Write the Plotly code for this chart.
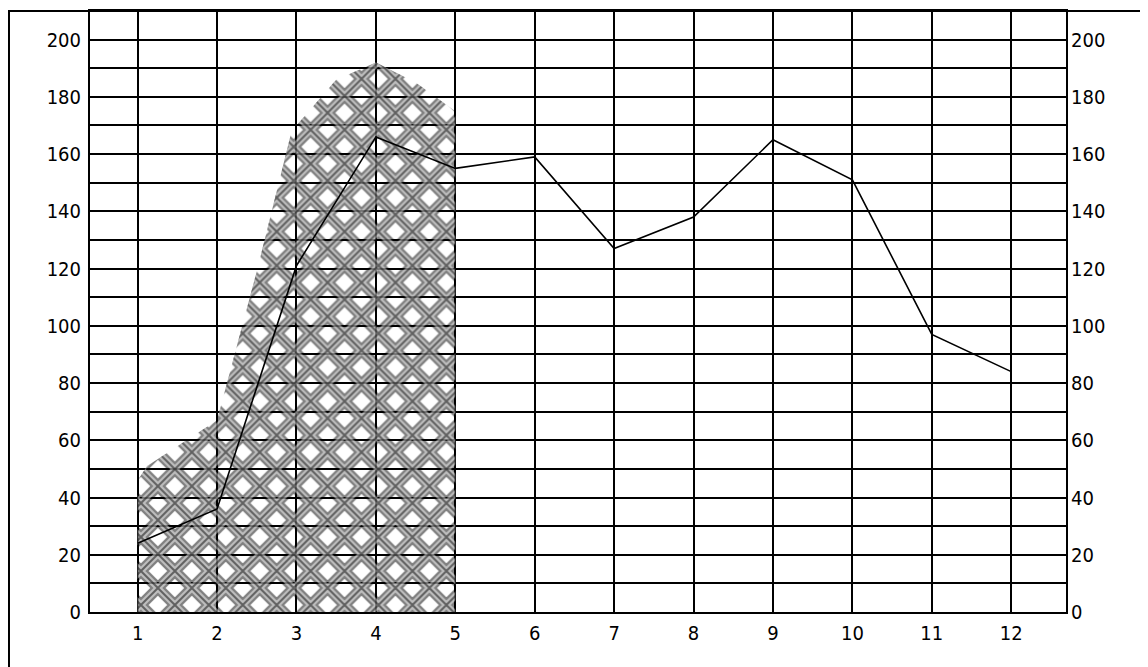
import plotly.graph_objects as go

# Data
months = [1, 2, 3, 4, 5, 6, 7, 8, 9, 10, 11, 12]
month_labels = ["1", "2", "3", "4", "5", "6", "7", "8", "9", "10", "11", "12"]
line_values = [24, 36, 121, 166, 155, 159, 127, 138, 165, 151, 97, 84]

# outline of the hatched area (x, y)
hatch_x = [1, 1, 1.12, 2, 2.5, 2.93, 3, 3.5, 4, 4.5, 5, 5]
hatch_y = [0, 46, 51, 67, 119, 167, 170, 186, 192, 185, 175, 0]

y_labels = [0, 20, 40, 60, 80, 100, 120, 140, 160, 180, 200]

fig = go.Figure()

# layered diagonal lattices give the triple-line diamond hatch
for col, sol in [("black", 0.7), ("white", 0.45), ("black", 0.16)]:
    fig.add_trace(go.Scatter(
        x=hatch_x, y=hatch_y, mode="lines", fill="toself",
        line=dict(width=0, color="black"),
        fillcolor="rgba(0,0,0,0)",
        fillpattern=dict(shape="x", fgcolor=col, size=24, solidity=sol),
        hoverinfo="skip", showlegend=False,
    ))

fig.add_trace(go.Scatter(
    x=months, y=line_values, mode="lines",
    line=dict(color="black", width=1.6),
    showlegend=False,
))
# carrier for right-hand axis labels
fig.add_trace(go.Scatter(
    x=months, y=line_values, mode="lines", line=dict(width=0),
    opacity=0, hoverinfo="skip", showlegend=False, yaxis="y2",
))

font = dict(family="Liberation Sans Narrow, Arial Narrow, DejaVu Sans Condensed, sans-serif",
            size=20, color="black")

fig.update_layout(
    width=1140, height=659,
    margin=dict(l=82, r=82, t=1, b=55),
    paper_bgcolor="white", plot_bgcolor="white",
    showlegend=False,
    font=font,
    xaxis=dict(
        range=[0.4, 12.69], tickmode="array", tickvals=months, ticktext=month_labels,
        showgrid=True, gridcolor="black", gridwidth=1.5,
        showline=True, linecolor="black", linewidth=2, mirror=True,
        ticks="", zeroline=False, tickfont=font, ticklabelstandoff=2,
    ),
    yaxis=dict(
        range=[0, 210], tickmode="array", tickvals=y_labels,
        showgrid=True, gridcolor="black", gridwidth=1.5,
        minor=dict(dtick=10, showgrid=True, gridcolor="black", gridwidth=1.5),
        showline=True, linecolor="black", linewidth=2, mirror=True,
        ticks="", zeroline=False, tickfont=font, ticklabelstandoff=3,
    ),
    yaxis2=dict(
        range=[0, 210], overlaying="y", side="right", tickmode="array",
        tickvals=y_labels, showgrid=False, ticks="", zeroline=False,
        tickfont=font, showline=False, ticklabelstandoff=4,
    ),
    shapes=[dict(
        type="rect", xref="paper", yref="paper",
        x0=-0.083, x1=1.081, y0=-0.12, y1=1.0,
        line=dict(color="black", width=2), fillcolor="rgba(0,0,0,0)",
    )],
)

fig.write_html("out.html")
